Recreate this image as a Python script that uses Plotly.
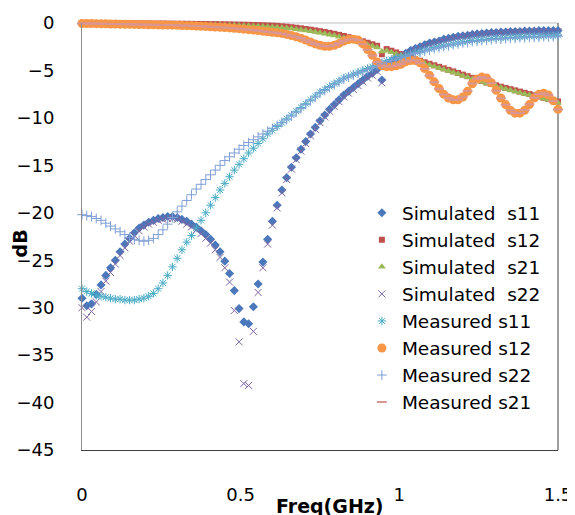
# S-параметры: моделирование и измерение
import numpy as np
import plotly.graph_objects as go

# сетка частот, ГГц (101 точка от 0 до 1.5)
freq = np.linspace(0, 1.5, 101)

# значения в дБ
sim_s11 = [-29.0, -29.8, -29.6, -28.6, -27.6, -26.6, -25.8, -25.0, -24.1, -23.3,
           -22.7, -22.1, -21.6, -21.3, -21.0, -20.8, -20.6, -20.5, -20.4, -20.4,
           -20.5, -20.7, -20.9, -21.2, -21.5, -21.9, -22.3, -22.8, -23.4, -24.1,
           -25.1, -26.4, -28.2, -30.1, -31.5, -31.7, -29.9, -27.5, -25.2, -22.8,
           -20.9, -19.2, -17.6, -16.3, -15.2, -14.2, -13.3, -12.5, -11.7, -11.0,
           -10.3, -9.7, -9.1, -8.6, -8.1, -7.6, -7.2, -6.8, -6.4, -6.0,
           -5.6, -5.3, -4.9, -6.0, -4.3, -4.0, -3.7, -3.4, -3.2, -2.9,
           -2.7, -2.5, -2.3, -2.1, -2.0, -1.9, -1.7, -1.6, -1.5, -1.4,
           -1.35, -1.3, -1.2, -1.15, -1.1, -1.05, -1.0, -1.0, -0.95, -0.95,
           -0.9, -0.9, -0.9, -0.85, -0.85, -0.85, -0.8, -0.8, -0.8, -0.8,
           -0.8]

sim_s12 = [0.0, -0.01, -0.01, -0.02, -0.02, -0.02, -0.03, -0.03, -0.03, -0.04,
           -0.04, -0.04, -0.05, -0.05, -0.05, -0.06, -0.06, -0.06, -0.07, -0.07,
           -0.08, -0.08, -0.09, -0.09, -0.10, -0.10, -0.11, -0.12, -0.12, -0.13,
           -0.14, -0.15, -0.16, -0.17, -0.18, -0.19, -0.21, -0.22, -0.24, -0.26,
           -0.28, -0.31, -0.35, -0.39, -0.44, -0.50, -0.56, -0.63, -0.70, -0.78,
           -0.86, -0.95, -1.04, -1.14, -1.25, -1.37, -1.50, -1.64, -1.78, -1.93,
           -2.08, -2.24, -2.40, -3.30, -2.75, -2.92, -3.10, -3.28, -3.46, -3.64,
           -3.82, -3.98, -4.14, -4.30, -4.46, -4.62, -4.78, -4.94, -5.10, -5.27,
           -5.44, -5.61, -5.78, -5.95, -6.12, -6.28, -6.43, -6.57, -6.71, -6.84,
           -6.97, -7.10, -7.23, -7.36, -7.49, -7.62, -7.75, -7.88, -8.01, -8.14,
           -8.27]

sim_s21 = [-0.05, -0.05, -0.06, -0.06, -0.07, -0.07, -0.08, -0.08, -0.09, -0.09,
           -0.10, -0.10, -0.11, -0.11, -0.12, -0.12, -0.13, -0.13, -0.14, -0.14,
           -0.15, -0.15, -0.16, -0.17, -0.17, -0.18, -0.19, -0.20, -0.21, -0.22,
           -0.23, -0.24, -0.25, -0.27, -0.28, -0.30, -0.32, -0.34, -0.36, -0.39,
           -0.42, -0.45, -0.49, -0.54, -0.59, -0.65, -0.72, -0.79, -0.87, -0.95,
           -1.04, -1.13, -1.23, -1.33, -1.45, -1.57, -1.70, -1.84, -1.98, -2.13,
           -2.28, -2.43, -2.58, -3.00, -2.92, -3.09, -3.26, -3.43, -3.60, -3.77,
           -3.94, -4.10, -4.26, -4.42, -4.58, -4.74, -4.90, -5.06, -5.22, -5.38,
           -5.55, -5.72, -5.89, -6.06, -6.22, -6.38, -6.53, -6.67, -6.81, -6.95,
           -7.08, -7.21, -7.34, -7.47, -7.60, -7.73, -7.86, -7.99, -8.12, -8.25,
           -8.40]

sim_s22 = [-30.0, -31.0, -30.4, -29.4, -28.3, -27.2, -26.3, -25.4, -24.5, -23.7,
           -23.0, -22.4, -21.9, -21.5, -21.2, -21.0, -20.8, -20.7, -20.6, -20.6,
           -20.7, -20.9, -21.2, -21.5, -21.8, -22.2, -22.7, -23.2, -23.9, -24.7,
           -25.8, -27.3, -30.3, -33.6, -38.0, -38.2, -32.5, -28.4, -25.8, -23.3,
           -21.3, -19.5, -17.9, -16.5, -15.4, -14.4, -13.5, -12.7, -11.9, -11.2,
           -10.5, -9.9, -9.3, -8.8, -8.3, -7.8, -7.4, -7.0, -6.6, -6.2,
           -5.8, -5.5, -5.1, -6.3, -4.5, -4.2, -3.9, -3.6, -3.35, -3.1,
           -2.85, -2.65, -2.45, -2.25, -2.1, -2.0, -1.85, -1.75, -1.65, -1.55,
           -1.45, -1.4, -1.3, -1.25, -1.2, -1.15, -1.1, -1.1, -1.05, -1.0,
           -1.0, -1.0, -0.95, -0.95, -0.95, -0.9, -0.9, -0.9, -0.9, -0.9,
           -0.9]

meas_s11 = [-28.0, -28.3, -28.5, -28.7, -28.8, -28.9, -29.0, -29.1, -29.1, -29.2,
            -29.2, -29.2, -29.1, -29.0, -28.8, -28.5, -28.0, -27.4, -26.6, -25.7,
            -24.8, -23.9, -23.1, -22.4, -21.6, -20.8, -20.0, -19.2, -18.4, -17.6,
            -16.9, -16.2, -15.5, -14.9, -14.3, -13.7, -13.2, -12.7, -12.2, -11.7,
            -11.3, -10.9, -10.5, -10.1, -9.7, -9.3, -8.9, -8.5, -8.1, -7.7,
            -7.3, -7.0, -6.7, -6.4, -6.1, -5.8, -5.6, -5.4, -5.2, -5.0,
            -4.8, -4.6, -4.4, -4.2, -4.0, -3.85, -3.7, -3.55, -3.4, -3.25,
            -3.1, -3.0, -2.85, -2.75, -2.6, -2.5, -2.4, -2.3, -2.2, -2.1,
            -2.0, -1.95, -1.85, -1.8, -1.75, -1.7, -1.65, -1.6, -1.6, -1.55,
            -1.5, -1.5, -1.45, -1.45, -1.4, -1.4, -1.4, -1.35, -1.35, -1.35,
            -1.3]

meas_s12 = [-0.05, -0.05, -0.06, -0.07, -0.08, -0.09, -0.10, -0.11, -0.12, -0.13,
            -0.14, -0.15, -0.16, -0.17, -0.18, -0.19, -0.20, -0.21, -0.22, -0.23,
            -0.24, -0.26, -0.28, -0.30, -0.32, -0.34, -0.36, -0.39, -0.42, -0.45,
            -0.48, -0.52, -0.56, -0.60, -0.65, -0.70, -0.75, -0.80, -0.86, -0.92,
            -0.98, -1.04, -1.10, -1.20, -1.32, -1.45, -1.60, -1.80, -2.00, -2.20,
            -2.35, -2.45, -2.45, -2.35, -2.15, -1.90, -1.75, -1.70, -1.80, -2.20,
            -2.80, -3.40, -4.10, -4.50, -4.60, -4.60, -4.50, -4.35, -4.10, -3.95,
            -3.95, -4.20, -4.80, -5.50, -6.20, -6.90, -7.50, -7.90, -8.10, -8.10,
            -7.80, -7.20, -6.40, -5.90, -5.70, -5.80, -6.30, -7.10, -7.90, -8.60,
            -9.20, -9.50, -9.50, -9.20, -8.60, -7.90, -7.50, -7.40, -7.60, -8.20,
            -9.10]

meas_s22 = [-20.2, -20.3, -20.4, -20.6, -20.8, -21.1, -21.4, -21.7, -22.0, -22.3,
            -22.6, -22.8, -22.9, -23.0, -22.9, -22.7, -22.3, -21.8, -21.2, -20.5,
            -19.9, -19.3, -18.7, -18.1, -17.5, -17.0, -16.5, -16.0, -15.5, -15.0,
            -14.5, -14.1, -13.7, -13.3, -12.9, -12.6, -12.3, -12.0, -11.7, -11.4,
            -11.1, -10.8, -10.5, -10.2, -9.8, -9.4, -9.0, -8.6, -8.2, -7.8,
            -7.4, -7.1, -6.8, -6.5, -6.2, -5.9, -5.7, -5.5, -5.3, -5.1,
            -4.9, -4.7, -4.5, -4.3, -4.1, -3.95, -3.8, -3.65, -3.5, -3.35,
            -3.2, -3.1, -2.95, -2.85, -2.7, -2.6, -2.5, -2.4, -2.3, -2.2,
            -2.1, -2.05, -1.95, -1.9, -1.85, -1.8, -1.75, -1.7, -1.7, -1.65,
            -1.6, -1.6, -1.55, -1.55, -1.5, -1.5, -1.5, -1.45, -1.45, -1.45,
            -1.4]

meas_s21 = [-0.04, -0.05, -0.06, -0.07, -0.08, -0.09, -0.10, -0.11, -0.12, -0.13,
            -0.14, -0.15, -0.16, -0.17, -0.18, -0.19, -0.20, -0.21, -0.22, -0.23,
            -0.25, -0.27, -0.28, -0.30, -0.32, -0.34, -0.37, -0.40, -0.43, -0.46,
            -0.49, -0.52, -0.56, -0.61, -0.66, -0.71, -0.76, -0.81, -0.87, -0.93,
            -0.99, -1.05, -1.12, -1.22, -1.34, -1.47, -1.62, -1.82, -2.02, -2.21,
            -2.36, -2.45, -2.44, -2.33, -2.13, -1.89, -1.74, -1.70, -1.82, -2.23,
            -2.83, -3.43, -4.12, -4.51, -4.61, -4.59, -4.48, -4.33, -4.08, -3.94,
            -3.96, -4.23, -4.84, -5.54, -6.24, -6.93, -7.52, -7.91, -8.10, -8.08,
            -7.77, -7.16, -6.37, -5.88, -5.70, -5.82, -6.33, -7.13, -7.93, -8.62,
            -9.21, -9.50, -9.48, -9.17, -8.57, -7.88, -7.49, -7.41, -7.63, -8.24,
            -9.12]

x_ticks = [0, 0.5, 1, 1.5]
x_tick_text = ['0', '0.5', '1', '1.5']

# (данные, подпись, маркер, цвет, размер, толщина линии маркера)
series = [
    (sim_s11, 'Simulated\u00a0 s11', 'diamond', '#4A78BA', 7, 0),
    (sim_s12, 'Simulated\u00a0 s12', 'square', '#C0504D', 6, 0),
    (sim_s21, 'Simulated\u00a0 s21', 'triangle-up', '#9BBB59', 7, 0),
    (sim_s22, 'Simulated\u00a0 s22', 'x-thin-open', '#8064A2', 7, 1),
    (meas_s11, 'Measured s11', 'asterisk-open', '#4BACC6', 7, 1),
    (meas_s12, 'Measured s12', 'circle', '#F79646', 9, 0),
    (meas_s22, 'Measured s22', 'cross-thin-open', '#7F9FD6', 7, 1),
    (meas_s21, 'Measured s21', 'line-ew-open', '#D99694', 7, 2),
]

fig = go.Figure()
for vals, name, symbol, color, size, lw in series:
    fig.add_trace(go.Scatter(
        x=freq, y=vals, name=name, mode='markers', cliponaxis=False,
        marker=dict(symbol=symbol, color=color, size=size,
                    line=dict(width=lw, color=color))))

# страница имеет отступ 8px, поэтому поля сдвинуты
font = 'DejaVu Sans'
fig.update_layout(
    width=575, height=507,
    margin=dict(l=74, r=25, t=14.5, b=65),
    plot_bgcolor='white', paper_bgcolor='white',
    font=dict(family=font, size=18, color='black'),
    showlegend=True,
    legend=dict(x=0.588, y=0.599, xanchor='left', yanchor='top',
                font=dict(size=18.5), bgcolor='rgba(0,0,0,0)'),
    xaxis=dict(range=[0, 1.5], tickvals=x_ticks, ticktext=x_tick_text,
               showgrid=False, zeroline=False, showline=True, linecolor='#404040',
               ticks='', ticklabelstandoff=28, ticklabeloverflow='allow',
               automargin=False),
    yaxis=dict(range=[-45, 0], dtick=5, showgrid=False, zeroline=False,
               showline=True, linecolor='#8c8c8c', ticks='', ticklabelstandoff=23,
               automargin=False),
    shapes=[
        dict(type='line', xref='paper', yref='paper', x0=0, x1=1, y0=1, y1=1,
             line=dict(color='#bfbfbf', width=1), layer='below'),
        dict(type='line', xref='paper', yref='paper', x0=1, x1=1, y0=0, y1=1,
             line=dict(color='#404040', width=1), layer='below'),
    ],
    annotations=[
        dict(text='<b>dB</b>', xref='paper', yref='paper', x=-0.13, y=0.484,
             xanchor='center', yanchor='middle', textangle=-90, showarrow=False,
             font=dict(size=19)),
        dict(text='<b>Freq(GHz)</b>', xref='paper', yref='paper', x=0.52, y=-0.13,
             xanchor='center', yanchor='middle', showarrow=False, font=dict(size=19)),
    ],
)

fig.write_html('out.html')
